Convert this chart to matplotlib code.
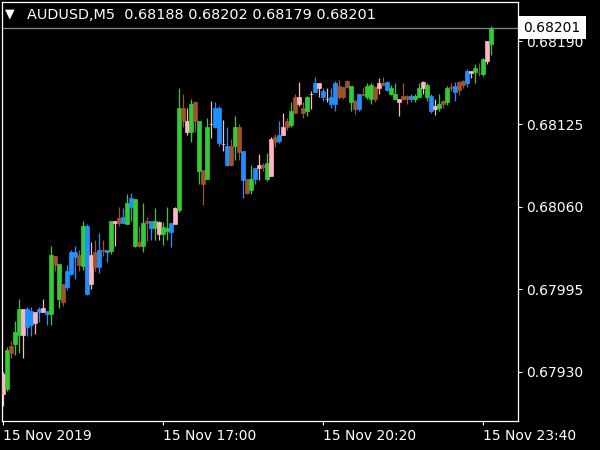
import matplotlib
matplotlib.use("Agg")
import matplotlib.pyplot as plt
import numpy as np

# ---------------- data ----------------
symbol = "AUDUSD,M5"

opens = [
    0.67912, 0.67916, 0.67950, 0.67952, 0.67959, 0.67959, 0.67979, 0.67978, 0.67968, 0.67979,
    0.67977, 0.67978, 0.67975, 0.68021, 0.67987, 0.67999, 0.68009, 0.68024, 0.68024, 0.68022,
    0.68013, 0.68045, 0.67999, 0.68024, 0.68026, 0.68026, 0.68026, 0.68025, 0.68047, 0.68051,
    0.68052, 0.68046, 0.68067, 0.68029, 0.68032, 0.68029, 0.68049, 0.68049, 0.68043, 0.68038,
    0.68038, 0.68041, 0.68047, 0.68046, 0.68057, 0.68138, 0.68119, 0.68119, 0.68142, 0.68088,
    0.68089, 0.68082, 0.68125, 0.68138, 0.68138, 0.68109, 0.68108, 0.68108, 0.68108, 0.68123,
    0.68104, 0.68082, 0.68073, 0.68090, 0.68090, 0.68093, 0.68082, 0.68084, 0.68115, 0.68116,
    0.68116, 0.68127, 0.68124, 0.68146, 0.68141, 0.68138, 0.68135, 0.68149, 0.68157, 0.68153,
    0.68151, 0.68145, 0.68146, 0.68157, 0.68155, 0.68154, 0.68159, 0.68142, 0.68143, 0.68149,
    0.68149, 0.68146, 0.68145, 0.68154, 0.68153, 0.68157, 0.68158, 0.68149, 0.68145, 0.68142,
    0.68147, 0.68147, 0.68147, 0.68145, 0.68146, 0.68153, 0.68146, 0.68147, 0.68137, 0.68138,
    0.68143, 0.68142, 0.68154, 0.68155, 0.68158, 0.68159, 0.68167, 0.68165, 0.68166, 0.68165,
    0.68164, 0.68175, 0.68188,
]
highs = [
    0.67930, 0.67949, 0.67954, 0.67970, 0.67987, 0.67979, 0.67981, 0.67981, 0.67977, 0.67981,
    0.67987, 0.67978, 0.68029, 0.68021, 0.68015, 0.67999, 0.68014, 0.68026, 0.68029, 0.68026,
    0.68049, 0.68046, 0.68032, 0.68034, 0.68039, 0.68034, 0.68026, 0.68049, 0.68049, 0.68060,
    0.68059, 0.68070, 0.68071, 0.68066, 0.68045, 0.68063, 0.68052, 0.68049, 0.68059, 0.68049,
    0.68048, 0.68060, 0.68047, 0.68060, 0.68153, 0.68149, 0.68138, 0.68145, 0.68143, 0.68127,
    0.68089, 0.68130, 0.68143, 0.68142, 0.68139, 0.68128, 0.68123, 0.68113, 0.68131, 0.68125,
    0.68104, 0.68082, 0.68093, 0.68090, 0.68101, 0.68094, 0.68102, 0.68115, 0.68117, 0.68127,
    0.68134, 0.68130, 0.68142, 0.68149, 0.68158, 0.68142, 0.68147, 0.68151, 0.68162, 0.68157,
    0.68153, 0.68153, 0.68153, 0.68159, 0.68160, 0.68154, 0.68160, 0.68155, 0.68145, 0.68149,
    0.68154, 0.68157, 0.68157, 0.68155, 0.68161, 0.68162, 0.68159, 0.68156, 0.68157, 0.68145,
    0.68157, 0.68148, 0.68149, 0.68149, 0.68157, 0.68159, 0.68157, 0.68149, 0.68145, 0.68149,
    0.68144, 0.68155, 0.68157, 0.68158, 0.68159, 0.68160, 0.68168, 0.68167, 0.68172, 0.68173,
    0.68177, 0.68190, 0.68202,
]
lows = [
    0.67903, 0.67915, 0.67941, 0.67943, 0.67945, 0.67941, 0.67958, 0.67958, 0.67960, 0.67969,
    0.67977, 0.67967, 0.67967, 0.68009, 0.67980, 0.67982, 0.67994, 0.68006, 0.68003, 0.68009,
    0.68010, 0.67990, 0.67995, 0.68009, 0.68008, 0.68021, 0.68016, 0.68023, 0.68029, 0.68045,
    0.68047, 0.68046, 0.68049, 0.68028, 0.68028, 0.68024, 0.68033, 0.68034, 0.68034, 0.68034,
    0.68030, 0.68034, 0.68028, 0.68046, 0.68056, 0.68123, 0.68116, 0.68111, 0.68119, 0.68078,
    0.68061, 0.68082, 0.68114, 0.68122, 0.68108, 0.68104, 0.68092, 0.68092, 0.68097, 0.68097,
    0.68067, 0.68070, 0.68070, 0.68078, 0.68081, 0.68088, 0.68080, 0.68084, 0.68107, 0.68110,
    0.68116, 0.68120, 0.68123, 0.68134, 0.68139, 0.68130, 0.68131, 0.68137, 0.68150, 0.68146,
    0.68143, 0.68142, 0.68138, 0.68135, 0.68145, 0.68145, 0.68153, 0.68135, 0.68133, 0.68135,
    0.68147, 0.68145, 0.68141, 0.68142, 0.68149, 0.68155, 0.68151, 0.68148, 0.68144, 0.68131,
    0.68144, 0.68141, 0.68142, 0.68142, 0.68146, 0.68149, 0.68143, 0.68134, 0.68132, 0.68135,
    0.68138, 0.68140, 0.68151, 0.68143, 0.68148, 0.68153, 0.68154, 0.68161, 0.68157, 0.68163,
    0.68163, 0.68172, 0.68179,
]
closes = [
    0.67928, 0.67947, 0.67945, 0.67961, 0.67979, 0.67979, 0.67965, 0.67967, 0.67977, 0.67977,
    0.67980, 0.67975, 0.68022, 0.68014, 0.68015, 0.67985, 0.67997, 0.68007, 0.68020, 0.68014,
    0.68045, 0.67991, 0.68022, 0.68012, 0.68012, 0.68025, 0.68024, 0.68049, 0.68049, 0.68047,
    0.68047, 0.68063, 0.68060, 0.68066, 0.68029, 0.68047, 0.68047, 0.68043, 0.68049, 0.68048,
    0.68044, 0.68043, 0.68040, 0.68059, 0.68138, 0.68127, 0.68127, 0.68141, 0.68127, 0.68127,
    0.68078, 0.68123, 0.68125, 0.68123, 0.68110, 0.68109, 0.68093, 0.68093, 0.68123, 0.68103,
    0.68081, 0.68071, 0.68082, 0.68082, 0.68093, 0.68091, 0.68094, 0.68113, 0.68111, 0.68112,
    0.68123, 0.68123, 0.68135, 0.68134, 0.68146, 0.68134, 0.68146, 0.68149, 0.68150, 0.68157,
    0.68146, 0.68145, 0.68141, 0.68141, 0.68146, 0.68146, 0.68154, 0.68155, 0.68137, 0.68137,
    0.68148, 0.68155, 0.68156, 0.68145, 0.68157, 0.68156, 0.68152, 0.68153, 0.68149, 0.68145,
    0.68145, 0.68145, 0.68145, 0.68147, 0.68153, 0.68158, 0.68156, 0.68135, 0.68139, 0.68141,
    0.68141, 0.68153, 0.68153, 0.68150, 0.68152, 0.68156, 0.68157, 0.68167, 0.68169, 0.68165,
    0.68176, 0.68190, 0.68201,
]
# candle colour codes: g=green, r=brown, p=pink, b=blue
candle_colors = ("pgrggpbbpb" "pbgrgrbbbr" "gbprbrbgpr" "bgbgrgrbgp" "ggbpgrpgrg"
                 "rgpbbpbrgr" "brgbprgprb" "prgrprgpbp" "bpbbrrrgrb" "rggrprbggp"
                 "rrbggpgbpg" "rgrbrrbpgr" "gpg")

tick_positions = [0, 40, 80, 120]
tick_labels = ["15 Nov 2019", "15 Nov 17:00", "15 Nov 20:20", "15 Nov 23:40"]
price_ticks = [0.67930, 0.67995, 0.68060, 0.68125, 0.68190]

# ---------------- figure ----------------
W, H = 600, 450
fig = plt.figure(figsize=(6, 4.5), dpi=100, facecolor="black")
ax = fig.add_axes([2 / W, 1 - 421 / H, 516 / W, 419 / H], facecolor="black")

cmap = {"g": "#32CD32", "r": "#A0522D", "p": "#FFB6C1", "b": "#1E90FF"}
cols = [cmap[c] for c in candle_colors]
x = np.arange(len(opens))
o = np.array(opens); c = np.array(closes)

ax.axhline(closes[-1], color="#778899", linewidth=0.9, zorder=1)
ax.vlines(x, lows, highs, colors=cols, linewidth=0.9, zorder=2)
ax.bar(x, np.abs(c - o), bottom=np.minimum(o, c), width=0.85, color=cols,
       edgecolor=cols, linewidth=0.5, zorder=3)

ax.set_xlim(-0.25, 128.75)
ax.set_ylim(0.678911, 0.682211)

for s in ax.spines.values():
    s.set_color("white")
    s.set_linewidth(0.9)

ax.yaxis.tick_right()
ax.set_yticks(price_ticks, [f"{v:.5f}" for v in price_ticks])
ax.tick_params(axis="y", colors="white", length=3, width=0.8, labelsize=10, pad=3)
ax.set_xticks(tick_positions, tick_labels)
ax.tick_params(axis="x", colors="white", length=3, width=0.8, labelsize=10, pad=3)
for lab in ax.get_xticklabels():
    lab.set_ha("left")

ax.text(1.0105, closes[-1], f"{closes[-1]:.5f}", transform=ax.get_yaxis_transform(),
        ha="left", va="center", color="black", fontsize=10, zorder=6, clip_on=False,
        bbox=dict(boxstyle="square,pad=0.35", fc="white", ec="none"))

header = f"{symbol}  {opens[-1]:.5f} {highs[-1]:.5f} {lows[-1]:.5f} {closes[-1]:.5f}"
fig.text(27 / W, 1 - 15 / H, header, ha="left", va="center", color="white", fontsize=10.4)
fig.text(5 / W, 1 - 14 / H, "\u25BC", ha="left", va="center", color="white", fontsize=9)

fig.savefig("out.png", dpi=100, facecolor="black")
